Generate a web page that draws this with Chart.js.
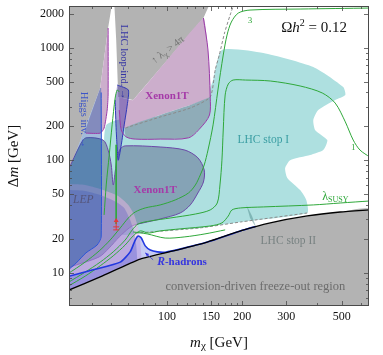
<!DOCTYPE html>
<html>
<head>
<meta charset="utf-8">
<script src="https://cdn.jsdelivr.net/npm/chart.js@4.4.1/dist/chart.umd.min.js"></script>
<style>
  html, body { margin: 0; padding: 0; background: #fff; }
  #wrap { width: 383px; height: 355px; }
</style>
</head>
<body>
<div id="wrap"><canvas id="chart" width="383" height="355"></canvas></div>
<script>
// axes
const X_MIN = 40.6, X_MAX = 643, Y_MIN = 5.05, Y_MAX = 2350;
const xTicks = [100, 150, 200, 300, 500];
const xMinor = [50, 60, 70, 80, 90, 110, 120, 130, 140, 160, 170, 180, 190, 400, 600];
const yTicks = [10, 20, 50, 100, 200, 500, 1000, 2000];
const yMinor = [6, 7, 8, 9, 30, 40, 60, 70, 80, 90, 300, 400, 600, 700, 800, 900];

// excluded regions (m_chi [GeV], delta m [GeV])
const tealX = [145, 153, 166, 243, 385, 507, 517, 471, 403, 385, 392, 438, 422, 374, 311, 297, 303, 341, 361, 364, 197, 136, 85.8, 65.1, 58.2, 56.1, 57.2, 63.3, 85.8, 124];
const tealY = [365, 516, 954, 897, 673, 447, 380, 343, 279, 228, 185, 151, 123, 111, 100, 85, 69.5, 54.3, 44.3, 33.9, 28.2, 25.0, 23.0, 22.1, 44.3, 151, 206, 228, 237, 291];
const grayLX = [40, 54.1, 58.2, 60.4, 40];
const grayLY = [74, 438, 1497, 2500, 2500];
const grayRX = [63.3, 149, 140, 73.3, 63.9, 62.7, 61.6];
const grayRY = [2500, 2500, 1837, 343, 365, 1170, 2500];
const pinkLX = [46.7, 54.1, 58.2, 58.2, 57.7, 56.1, 54.1];
const pinkLY = [174, 438, 1497, 380, 279, 193, 174];
const pinkRX = [64.5, 73.3, 140, 146, 149, 124, 94, 68.1, 65.7, 64.5];
const pinkRY = [365, 343, 1837, 954, 365, 309, 252, 193, 193, 279];
const bandX = [149, 148, 136, 122, 94, 74.7, 68.8, 68.1, 94, 124];
const bandY = [365, 252, 193, 158, 154, 154, 161, 193, 252, 309];
const xenonX = [40, 45.4, 47.5, 55.6, 58.2, 59.9, 61.0, 62.1, 63.3, 65.1, 68.1, 94, 118, 133, 141, 140, 133, 124, 113, 94, 80.4, 74.0, 70.7, 64.5, 58.8, 53.6, 43.4, 40];
const xenonY = [78.5, 142, 158, 151, 123, 90.6, 60.2, 78.5, 105, 126, 134, 131, 123, 105, 81.8, 64.0, 51.1, 40.0, 33.9, 30.0, 27.7, 26.5, 25.0, 20.8, 16.6, 13.8, 11.7, 11.0];
const stop2X = [208, 219, 228, 215];
const stop2Y = [40.0, 31.9, 25.0, 30.6];
const lepRimX = [40, 47.1, 54.1, 63.9, 70.1, 74.0, 76.8, 78.2, 79.0, 79.6, 80.4, 38];
const lepRimY = [61.4, 60.2, 55.5, 48.1, 40.0, 32.6, 25.0, 19.5, 14.4, 9.5, 4.5, 4.5];
const lepX = [40, 47.1, 54.1, 62.7, 67.5, 71.3, 74.0, 75.4, 76.1, 76.8, 38];
const lepY = [54.3, 53.2, 49.0, 42.5, 37.6, 29.4, 23.0, 17.6, 13.0, 4.5, 4.5];
const higgsX = [40, 54.1, 54.6, 54.6, 52.6, 47.5, 43.4, 40];
const higgsY = [74, 438, 438, 20.8, 17.6, 15.0, 12.2, 10.4];
const loopX = [63.3, 70.1, 69.4, 67.5, 65.7, 63.9, 62.7, 62.1];
const loopY = [466, 421, 309, 206, 137, 100, 185, 343];
const rhadX = [40, 50.7, 65.1, 71.3, 74.7, 76.8, 79.0, 81.9, 85.8, 91.5, 98.4, 118, 145, 197, 226];
const rhadY = [9.2, 10.6, 12.4, 15.3, 19.5, 21.2, 20.3, 17.3, 15.9, 15.3, 15.2, 16.6, 18.7, 23.5, 25.7];
const blackX = [40, 54.1, 78.2, 106, 145, 197, 259, 364, 493, 650];
const blackY = [6.9, 9.16, 13.2, 15.6, 18.7, 23.5, 27.7, 31.9, 34.6, 36.2];

// boundary curves
const dashAX = [186, 179, 170, 162, 156, 149, 124, 94, 68.1];
const dashAY = [2500, 1953, 1351, 861, 634, 365, 291, 242, 193];
const dashBX = [364, 197, 136, 85.8, 74.7];
const dashBY = [33.9, 28.2, 25.0, 23.0, 22.5];
const purple1X = [140, 146, 149, 148, 136, 122, 94, 74.7, 68.8, 65.7, 64.5];
const purple1Y = [1837, 954, 365, 252, 193, 158, 154, 154, 161, 185.5, 279];
const purple2X = [58.2, 58.2, 57.7, 56.1, 54.1, 47.5];
const purple2Y = [1497, 380, 279, 193, 174, 174];
const higgsLineX = [54.6, 54.6, 52.6, 47.5, 43.4, 40];
const higgsLineY = [400, 20.8, 17.6, 15.0, 12.2, 10.4];

// relic density contours
const lam3X = [650, 341, 215, 193, 181, 174, 168, 160, 153, 146, 141, 136, 130, 122, 108, 94, 81.9, 74.7, 70.1, 65.1, 59.3, 53.6, 47.1, 40];
const lam3Y = [2254, 2208, 2163, 2034, 1692, 1297, 861, 421, 206, 123, 90.6, 73.9, 60.2, 51.1, 44.3, 40.0, 37.6, 34.6, 30.6, 25.0, 19.5, 15.6, 12.4, 9.7];
const lam1X = [650, 592, 556, 517, 471, 418, 341, 259, 206, 184, 176, 171, 168, 166, 163, 159, 149, 130, 103, 85.8, 76.8, 72.7, 68.1, 61.0, 54.1, 47.1, 40];
const lam1Y = [106, 123, 151, 219, 322, 396, 457, 506, 516, 516, 476, 380, 185.5, 100, 60.2, 41.6, 36.1, 33.2, 30.6, 28.8, 27.1, 24.0, 19.5, 15.3, 12.4, 10.1, 8.1];
const susyX = [650, 493, 385, 243, 197, 182, 176, 166, 149, 113, 94, 84.2, 78.2, 73.3, 68.1, 61.0, 54.1, 47.1, 40];
const susyY = [43.4, 41.6, 40.0, 38.4, 37.6, 36.1, 31.9, 27.7, 26.0, 24.5, 23.5, 22.5, 23.5, 21.2, 17.6, 14.1, 11.5, 9.3, 7.5];
const lowX = [73.3, 83.4, 98.4, 118, 142, 171];
const lowY = [23.0, 22.1, 20.3, 20.8, 22.1, 24.0];
const resX = [56.1, 57.2, 58.8, 60.4, 62.1, 63.3, 64.5];
const resY = [32.6, 60.2, 111, 206, 357, 421, 404];
const vertX = [62.7, 62.7];
const vertY = [137, 27.1];

// red lower-limit marker
const limX = [62.7], limLo = [24.0], limHi = [30.6];

const SERIF = '"Liberation Serif", "DejaVu Serif", serif';

function pts(xs, ys) { return xs.map((v, i) => ({ x: v, y: ys[i] })); }
function area(xs, ys, color, extra) {
  return Object.assign({ data: pts(xs, ys), showLine: true, fill: 'shape', backgroundColor: color,
    borderColor: 'rgba(0,0,0,0)', borderWidth: 1, pointRadius: 0, tension: 0.3 }, extra || {});
}
function curve(xs, ys, color, extra) {
  return Object.assign({ data: pts(xs, ys), showLine: true, fill: false, borderColor: color,
    borderWidth: 1, pointRadius: 0, tension: 0.3 }, extra || {});
}

const GREEN = '#2fa83a';
const layers = [
  area(tealX, tealY, '#aee0e0', { tension: 0.2 }),
  area(grayLX, grayLY, '#b3b3b3', { tension: 0 }),
  area(grayRX, grayRY, '#b3b3b3', { tension: 0 }),
  area(pinkLX, pinkLY, '#ccaecc', { tension: 0 }),
  area(pinkRX, pinkRY, '#ccaecc', { tension: 0.1 }),
  area(bandX, bandY, '#8facb8', { tension: 0.2 }),
  area(xenonX, xenonY, '#85a3b6', { borderColor: '#6b48a8' }),
  area(stop2X, stop2Y, 'rgba(70,130,130,0.45)', { tension: 0 }),
  area(lepRimX, lepRimY, 'rgba(235,180,225,0.5)', { tension: 0.2 }),
  area(lepX, lepY, 'rgba(95,95,195,0.38)', { tension: 0.2 }),
  area(rhadX.concat([226, 38]), rhadY.concat([4.5, 4.5]), 'rgba(80,95,220,0.32)', { tension: 0.2 }),
  area(higgsX, higgsY, 'rgba(30,90,170,0.42)', { tension: 0 }),
  area(loopX, loopY, 'rgba(85,70,170,0.5)', { borderColor: '#3038b8', tension: 0.2 }),
  area(blackX.concat([650, 38]), blackY.concat([4.5, 4.5]), '#b3b3b3', { tension: 0.2 }),
  curve(dashAX, dashAY, '#8a8a8a', { borderDash: [3, 2], tension: 0.2 }),
  curve(dashBX, dashBY, '#8a8a8a', { borderDash: [3, 2], tension: 0.2 }),
  curve(lam3X, lam3Y, GREEN),
  curve(lam1X, lam1Y, GREEN),
  curve(susyX, susyY, GREEN),
  curve(lowX, lowY, GREEN),
  curve(resX, resY, GREEN),
  curve(vertX, vertY, GREEN, { tension: 0 }),
  curve(purple1X, purple1Y, '#9a3aa8'),
  curve(purple2X, purple2Y, '#9a3aa8', { tension: 0.2 }),
  curve(higgsLineX, higgsLineY, '#2a55d8', { tension: 0.2 }),
  curve(rhadX, rhadY, '#2238e0', { borderWidth: 1.6, tension: 0.2 }),
  curve(blackX, blackY, '#000', { borderWidth: 1.3, tension: 0.2 })
];
layers.forEach((d, i) => { d.order = layers.length - i; });

// text labels inside the plot (position in data units)
const notes = [
  { parts: [['Xenon1T', 'bold 11px ' + SERIF]], x: 100, y: 372, color: '#a53aa8' },
  { parts: [['Xenon1T', 'bold 11px ' + SERIF]], x: 89.8, y: 54.3, color: '#a53aa8' },
  { parts: [['LHC stop I', '11.5px ' + SERIF]], x: 243, y: 151, color: '#3b9ea3' },
  { parts: [['LHC stop II', '11.5px ' + SERIF]], x: 306, y: 19.1, color: '#788282' },
  { parts: [['LEP', 'italic 11.5px ' + SERIF]], x: 46.3, y: 44.3, color: '#55557a' },
  { parts: [['R', 'bold italic 11.5px ' + SERIF], ['-hadrons', 'bold 11px ' + SERIF]], x: 91.5, y: 12.4, color: '#3535e0', align: 'left' },
  { parts: [['conversion-driven freeze-out region', '12.5px ' + SERIF]], x: 226, y: 7.5, color: '#6c6c6c' },
  { parts: [['Higgs inv. \u2192', '10.5px ' + SERIF]], x: 46.3, y: 228, color: '#3c55c8', rot: 90 },
  { parts: [['LHC loop-ind. \u2192', '10.5px ' + SERIF]], x: 67.5, y: 746, color: '#3434a4', rot: 90 },
  { parts: [['\u2191 \u03bb', '10.5px ' + SERIF], ['\u03c7', '8px ' + SERIF, 3], [' > 4\u03c0', '10.5px ' + SERIF]], x: 101, y: 954, color: '#737373', rot: -38 },
  { parts: [['\u03a9', '15px ' + SERIF], ['h', 'italic 15px ' + SERIF], ['2', '10px ' + SERIF, -5], [' = 0.12', '15px ' + SERIF]], x: 388, y: 1497, color: '#111' },
  { parts: [['3', '9px ' + SERIF]], x: 215, y: 1727, color: GREEN },
  { parts: [['1', '9px ' + SERIF]], x: 556, y: 128, color: GREEN },
  { parts: [['\u03bb', '12px ' + SERIF], ['SUSY', '8px ' + SERIF, 3]], x: 418, y: 47.1, color: GREEN, align: 'left' }
];

function runs(ctx, parts, x, y, align) {
  let w = 0;
  parts.forEach(p => { ctx.font = p[1]; w += ctx.measureText(p[0]).width; });
  let cx = align === 'left' ? x : x - w / 2;
  parts.forEach(p => {
    ctx.font = p[1];
    ctx.fillText(p[0], cx, y + (p[2] || 0));
    cx += ctx.measureText(p[0]).width;
  });
}

const decor = {
  id: 'decor',
  afterDatasetsDraw(chart) {
    const { ctx, scales: { x, y } } = chart;
    ctx.save();
    ctx.textAlign = 'left';
    ctx.textBaseline = 'middle';
    notes.forEach(n => {
      ctx.save();
      ctx.translate(x.getPixelForValue(n.x), y.getPixelForValue(n.y));
      if (n.rot) ctx.rotate(n.rot * Math.PI / 180);
      ctx.fillStyle = n.color;
      runs(ctx, n.parts, 0, 0, n.align);
      ctx.restore();
    });

    // R-hadrons pointer
    const ax0 = x.getPixelForValue(88.1), ay0 = y.getPixelForValue(13.0);
    const ax1 = x.getPixelForValue(81.9), ay1 = y.getPixelForValue(15.0);
    ctx.strokeStyle = '#3535e0';
    ctx.fillStyle = '#3535e0';
    ctx.lineWidth = 0.8;
    ctx.beginPath(); ctx.moveTo(ax0, ay0); ctx.lineTo(ax1, ay1); ctx.stroke();
    const ang = Math.atan2(ay1 - ay0, ax1 - ax0);
    ctx.beginPath();
    ctx.moveTo(ax1, ay1);
    ctx.lineTo(ax1 - 4 * Math.cos(ang - 0.4), ay1 - 4 * Math.sin(ang - 0.4));
    ctx.lineTo(ax1 - 4 * Math.cos(ang + 0.4), ay1 - 4 * Math.sin(ang + 0.4));
    ctx.closePath(); ctx.fill();

    // red limit marker
    limX.forEach((v, i) => {
      const px = x.getPixelForValue(v);
      const lo = y.getPixelForValue(limLo[i]), hi = y.getPixelForValue(limHi[i]);
      ctx.strokeStyle = '#e23a3a';
      ctx.fillStyle = '#e23a3a';
      ctx.lineWidth = 1;
      ctx.beginPath();
      ctx.moveTo(px, lo); ctx.lineTo(px, hi + 2);
      ctx.moveTo(px - 3, lo); ctx.lineTo(px + 3, lo);
      ctx.moveTo(px - 3, lo - 3); ctx.lineTo(px + 3, lo - 3);
      ctx.stroke();
      ctx.beginPath();
      ctx.moveTo(px, hi); ctx.lineTo(px - 2.5, hi + 4); ctx.lineTo(px + 2.5, hi + 4);
      ctx.closePath(); ctx.fill();
    });
    ctx.restore();
  },
  afterDraw(chart) {
    const { ctx, chartArea: a, scales: { x, y } } = chart;
    ctx.save();
    ctx.strokeStyle = '#4a4a4a';
    ctx.lineWidth = 1;
    ctx.strokeRect(a.left + 0.5, a.top + 0.5, a.right - a.left - 1, a.bottom - a.top - 1);
    ctx.lineWidth = 0.8;
    ctx.beginPath();
    xTicks.concat(xMinor).forEach(v => {
      const px = Math.round(x.getPixelForValue(v)) + 0.5;
      const len = xTicks.includes(v) ? 5 : 3;
      ctx.moveTo(px, a.bottom); ctx.lineTo(px, a.bottom - len);
      ctx.moveTo(px, a.top); ctx.lineTo(px, a.top + len);
    });
    yTicks.concat(yMinor).forEach(v => {
      const py = Math.round(y.getPixelForValue(v)) + 0.5;
      const len = yTicks.includes(v) ? 5 : 3;
      ctx.moveTo(a.left, py); ctx.lineTo(a.left + len, py);
      ctx.moveTo(a.right, py); ctx.lineTo(a.right - len, py);
    });
    ctx.stroke();

    // axis titles
    ctx.fillStyle = '#111';
    ctx.textAlign = 'left';
    ctx.textBaseline = 'middle';
    runs(ctx, [['m', 'italic 15px ' + SERIF], ['\u03c7', '11px ' + SERIF, 3], [' [GeV]', '15px ' + SERIF]],
      (a.left + a.right) / 2, 343);
    ctx.translate(14, (a.top + a.bottom) / 2);
    ctx.rotate(-Math.PI / 2);
    runs(ctx, [['\u0394', '15px ' + SERIF], ['m', 'italic 15px ' + SERIF], [' [GeV]', '15px ' + SERIF]], 0, 0);
    ctx.restore();
  }
};

const tickFont = { family: SERIF, size: 12 };

new Chart(document.getElementById('chart'), {
  type: 'scatter',
  data: { datasets: layers },
  options: {
    responsive: false,
    animation: false,
    devicePixelRatio: 1,
    events: [],
    layout: { padding: { top: 6, right: 14, left: 0, bottom: 0 } },
    plugins: { legend: { display: false }, tooltip: { enabled: false } },
    scales: {
      x: {
        type: 'logarithmic', min: X_MIN, max: X_MAX,
        grid: { display: false, drawTicks: false },
        border: { display: false },
        ticks: { autoSkip: false, maxRotation: 0, minRotation: 0, padding: 4, font: tickFont, color: '#111',
          callback: v => String(v) },
        afterBuildTicks: s => { s.ticks = xTicks.map(v => ({ value: v })); },
        afterFit: s => { s.height = 49; s.paddingLeft = 0; s.paddingRight = 0; }
      },
      y: {
        type: 'logarithmic', min: Y_MIN, max: Y_MAX,
        grid: { display: false, drawTicks: false },
        border: { display: false },
        ticks: { autoSkip: false, padding: 5, font: tickFont, color: '#111',
          callback: v => String(v) },
        afterBuildTicks: s => { s.ticks = yTicks.map(v => ({ value: v })); },
        afterFit: s => { s.width = 69; s.paddingTop = 0; s.paddingBottom = 0; }
      }
    }
  },
  plugins: [decor]
});
</script>
</body>
</html>
